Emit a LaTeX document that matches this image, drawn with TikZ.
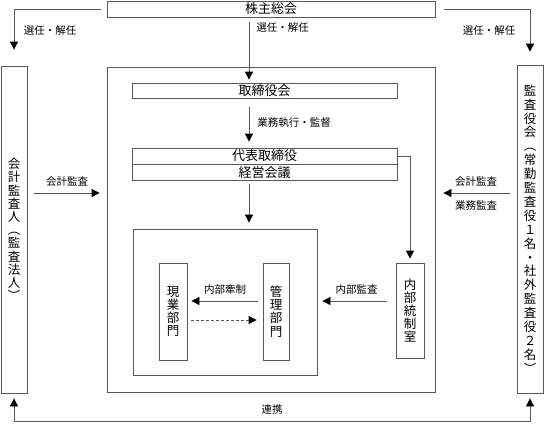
\documentclass[tikz,border=0pt]{standalone}
\usepackage{fontspec}
\setmainfont{Noto Sans CJK JP}
\usetikzlibrary{arrows.meta, positioning}

\tikzset{
  box/.style={draw=black!65, line width=0.8pt, inner sep=0pt,
              font=\fontsize{13}{14}\selectfont},
  tate/.style={box, align=center, font=\fontsize{12.5}{13.2}\selectfont},
  lbl/.style={inner sep=0pt, font=\fontsize{10.5}{12}\selectfont},
  conn/.style={draw=black!65, line width=0.8pt, ->},
}

\begin{document}
\begin{tikzpicture}[x=1pt, y=-1pt,
                    >={Triangle[length=8pt,width=8pt,color=black]}]
\useasboundingbox (0,0) rectangle (545,426);
\coordinate (axis) at (249,0);

\node[box, minimum width=328pt, minimum height=16pt]  (soukai)      at (271,9)       {株主総会};
\node[box, minimum width=328pt, minimum height=325pt] (kaisha)      at (271,229.5)   {};
\node[box, minimum width=265pt, minimum height=15pt]  (torishimari) at (264.5,90.5)  {取締役会};
\node[box, minimum width=265pt, minimum height=16pt]  (daihyo)      at (264.5,156)   {代表取締役};
\node[box, minimum width=265pt, minimum height=16pt]  (keiei) [below=0pt of daihyo] {経営会議};
\node[box, minimum width=184pt, minimum height=146pt] (bumon)       at (225,302)     {};
\node[tate, minimum width=28pt, minimum height=97pt]  (genba)       at (173,311.5)   {現\\業\\部\\門};
\node[tate, minimum width=26pt, minimum height=97pt]  (kanri)       at (276,311.5)   {管\\理\\部\\門};
\node[tate, minimum width=28pt, minimum height=95pt]  (tousei)      at (410,310.5)   {内\\部\\統\\制\\室};
\node[tate, minimum width=26pt, minimum height=327pt] (kaikei)      at (14,229.5)
  {会\\計\\監\\査\\人\\︵\\監\\査\\法\\人\\︶};
\node[tate, minimum width=26pt, minimum height=328pt,
      font=\fontsize{12.5}{13.9}\selectfont] (kansa) at (530,229)
  {監\\査\\役\\会\\︵\\常\\勤\\監\\査\\役\\１\\名\\・\\社\\外\\監\\査\\役\\２\\名\\︶};

% 選任・解任
\draw[conn, shorten <=5pt, shorten >=3pt] (soukai.south -| axis)
  -- node[lbl, pos=0.16, right=7pt] {選任・解任} (torishimari.north -| axis);
\draw[conn, shorten <=6pt, shorten >=16pt] (soukai.west) -| (kaikei.north);
\draw[conn, shorten <=9pt, shorten >=13pt] (soukai.east) -| (kansa.north);
\node[lbl] (senin1) at (50,31)  {選任・解任};
\node[lbl] (senin2) at (489,31) {選任・解任};

\draw[conn, shorten <=9pt, shorten >=6pt] (torishimari.south -| axis)
  -- node[lbl, right=8pt] {業務執行・監督} (daihyo.north -| axis);
\draw[conn, shorten <=3pt, shorten >=6pt] (keiei.south -| axis) -- (bumon.north -| axis);
\draw[conn, shorten >=4pt] (daihyo.east) -| (tousei.north);

% 内部の監査と牽制
\draw[conn, shorten <=9pt, shorten >=5pt] ([yshift=9.5pt]tousei.west)
  -- node[lbl, above=6pt] {内部監査} ([yshift=9.5pt]tousei.west -| bumon.east);
\draw[conn, shorten <=5pt, shorten >=4pt] ([yshift=10.5pt]kanri.west)
  -- node[lbl, above=6pt] {内部牽制} ([yshift=10.5pt]kanri.west -| genba.east);
\draw[conn, dash pattern=on 3pt off 2pt, shorten <=4pt, shorten >=6pt] ([yshift=-8.5pt]genba.east)
  -- ([yshift=-8.5pt]genba.east -| kanri.west);

% 外部からの監査
\draw[conn, shorten <=7pt, shorten >=7pt] ([yshift=36.5pt]kaikei.east)
  -- node[lbl, above=6pt] {会計監査} ([yshift=36.5pt]kaikei.east -| kaisha.west);
\draw[conn, shorten <=7pt, shorten >=8pt] ([yshift=36pt]kansa.west)
  -- node[lbl, above=6pt] {会計監査} node[lbl, below=7pt] {業務監査}
  ([yshift=36pt]kansa.west -| kaisha.east);

\draw[conn, <->, shorten <=5pt, shorten >=5pt] (kaikei.south) -- ++(0,28)
  -| node[lbl, pos=0.25, above=7pt] {連携} (kansa.south);
\end{tikzpicture}
\end{document}
